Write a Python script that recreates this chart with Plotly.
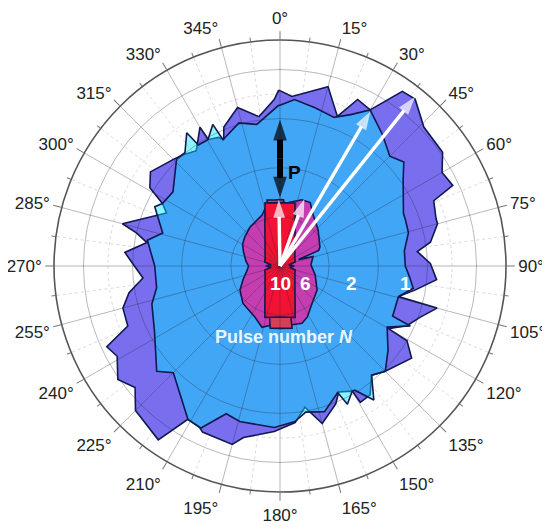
import plotly.graph_objects as go

# ---------------- data (angle in degrees, radius in grid units) ----------------
n1_theta = [0, 4, 15, 21, 25, 30, 35, 39, 46, 55, 60, 65, 67, 73, 75, 81, 84, 89, 95, 100,
            104.5, 105, 110, 115, 120, 120.5, 125, 135, 140, 145, 149.5, 150, 155, 158, 165,
            170, 174.5, 182, 192, 195, 205, 206.5, 211, 215, 225, 230, 235, 241, 245, 248.5,
            255, 260, 265, 271, 275, 280, 283, 285, 295, 298, 301, 306, 315, 319, 324, 330,
            330.5, 334.5, 336, 338, 345, 352, 358, 359.5]
n1_r = [3.57, 3.46, 3.78, 3.26, 3.74, 3.67, 4.34, 4.37, 4.07, 4.04, 3.81, 3.88, 3.40, 3.32,
        3.32, 3.10, 2.81, 3.06, 3.20, 2.80, 2.49, 3.31, 3.04, 2.86, 2.55, 3.00, 3.27, 3.03,
        2.90, 3.20, 3.22, 2.94, 2.83, 3.03, 3.32, 2.92, 3.20, 3.37, 3.57, 3.76, 3.73, 3.67,
        3.64, 4.32, 4.16, 3.85, 4.03, 3.79, 3.89, 3.33, 3.31, 3.12, 2.80, 3.00, 3.17, 2.75,
        3.00, 3.32, 2.55, 2.71, 3.09, 3.26, 3.07, 3.00, 2.90, 3.26, 2.96, 2.90, 2.82, 3.05,
        3.34, 3.07, 3.39, 3.57]

n2_theta = [0, 5, 12.5, 20, 25, 30, 38, 45, 50, 55, 67, 70, 75.5, 83, 90, 95, 99.5, 104.5,
            114, 114.7, 119.7, 128, 135, 140, 145, 149, 150, 154, 155.5, 163, 170, 174.5,
            182, 194.5, 200, 206, 211, 225, 229.5, 242.5, 253.5, 260, 270, 281, 285.7, 295.3,
            298, 304.7, 316, 320, 325, 326, 330.3, 334.6, 335.7, 344, 350.7, 359.5]
n2_r = [3.27, 3.40, 3.30, 3.22, 3.40, 3.67, 3.39, 3.16, 3.29, 3.06, 2.73, 2.72, 2.70, 2.55,
        2.55, 2.65, 2.75, 2.49, 2.51, 2.92, 2.51, 2.79, 3.03, 2.90, 3.33, 2.95, 2.94, 3.13,
        2.83, 3.10, 3.02, 3.18, 3.29, 3.27, 3.20, 3.67, 3.64, 3.07, 3.30, 2.88, 2.72, 2.55,
        2.55, 2.75, 2.48, 2.82, 2.71, 2.65, 3.03, 3.01, 3.31, 2.97, 2.96, 3.19, 2.82, 3.03,
        2.92, 3.27]

n6_theta = [0, 6, 10.6, 18.4, 25.5, 33, 46.5, 64.6, 68, 71, 74, 88, 104.4, 123, 139, 152,
            159, 170, 184.6, 187.7, 196.4, 206, 225, 239, 250, 262, 270, 278, 291.5, 300,
            309.6, 322.4, 340.6, 349, 355]
n6_r = [1.25, 1.29, 1.33, 1.42, 1.43, 1.24, 1.07, 0.90, 0.85, 0.40, 0.70, 0.63, 0.74, 0.90,
        1.00, 1.18, 1.25, 1.22, 1.27, 1.21, 1.30, 1.16, 1.07, 0.95, 0.80, 0.68, 0.64, 0.70,
        0.80, 0.88, 0.93, 1.00, 1.10, 1.31, 1.30]

n8_theta = [0, 3, 8, 15, 30, 45, 60, 90, 120, 135, 150, 160, 168, 169, 180, 189, 195, 210,
            225, 270, 315, 330, 340, 345, 348.9, 355]
n8_r = [1.35, 1.35, 1.02, 0.87, 0.45, 0.32, 0.26, 0.22, 0.26, 0.32, 0.45, 0.65, 1.08, 1.29,
        1.27, 1.28, 0.87, 0.45, 0.32, 0.22, 0.32, 0.45, 0.65, 0.87, 1.37, 1.35]

n10_theta = [0, 13.4, 20, 30, 45, 60, 75, 83, 90, 97, 105, 120, 135, 150, 160, 163.6, 170,
             180, 190, 196.4, 200, 210, 225, 240, 255, 263, 270, 277, 285, 300, 315, 330,
             340, 346.6, 355]
n10_r = [1.29, 1.32, 0.90, 0.61, 0.43, 0.35, 0.32, 0.18, 0.29, 0.20, 0.32, 0.35, 0.43, 0.61,
         0.90, 1.09, 1.06, 1.04, 1.06, 1.09, 0.90, 0.61, 0.43, 0.35, 0.32, 0.18, 0.29, 0.18,
         0.32, 0.35, 0.43, 0.61, 0.90, 1.32, 1.29]

# white arrows (from the centre) : direction and length
arrow_theta = [359, 20, 30.3, 38.6]
arrow_r = [1.35, 1.45, 3.64, 4.40]

# black double-headed arrow P (along 0 deg)
p_theta = 0
p_r_start, p_r_end = 1.39, 2.98

angle_ticks = list(range(0, 360, 15))
angle_labels = [f"{a}°" for a in angle_ticks]
minor_angle_ticks = [a + 7.5 for a in angle_ticks]
radial_ticks = [1, 2, 3, 4]
minor_radial_ticks = [0.5, 1.5, 2.5, 3.5]

series_labels = ["10", "6", "2", "1"]

# ---------------- figure ----------------
fig = go.Figure()
outline = "#101850"


def area(theta, r, color, sub="polar"):
    fig.add_trace(go.Scatterpolar(
        theta=theta + [theta[0]], r=r + [r[0]], mode="lines", fill="toself",
        fillcolor=color, line=dict(color=outline, width=1.6), hoverinfo="skip",
        showlegend=False, subplot=sub))


area(n1_theta, n1_r, "rgb(120,110,238)")
area(n2_theta, n2_r, "rgba(0,235,255,0.45)")
area(n6_theta, n6_r, "rgb(196,62,178)")
area(n8_theta, n8_r, "rgb(214,62,84)")
area(n10_theta, n10_r, "rgb(242,18,52)")

# white arrows
for th, rr in zip(arrow_theta, arrow_r):
    fig.add_trace(go.Scatterpolar(
        theta=[th, th], r=[0, rr], mode="lines+markers", subplot="polar2",
        line=dict(color="white", width=3.4),
        marker=dict(symbol=["circle", "arrow"], size=[0, 19], color="white",
                    angleref="previous", line=dict(width=0)),
        hoverinfo="skip", showlegend=False))

# black double arrow
p_mid = (p_r_start + p_r_end) / 2
for end in (p_r_end, p_r_start):
    fig.add_trace(go.Scatterpolar(
        theta=[p_theta, p_theta], r=[p_mid, end], mode="lines+markers", subplot="polar2",
        line=dict(color="black", width=6),
        marker=dict(symbol=["circle", "arrow"], size=[0, 22], color="black",
                    angleref="previous", line=dict(width=0)),
        hoverinfo="skip", showlegend=False))

font_family = "Liberation Sans, Arial, sans-serif"
common_radial = dict(range=[0, 4.6], showticklabels=False, ticks="", showline=False)

fig.update_layout(
    width=550, height=528,
    # page body adds an 8px offset, so margins are shifted by 8px up/left
    margin=dict(l=46, r=52, t=32, b=44),
    paper_bgcolor="white",
    font=dict(family=font_family, size=17, color="#222"),
    polar=dict(
        domain=dict(x=[0, 1], y=[0, 1]),
        bgcolor="white",
        angularaxis=dict(rotation=90, direction="clockwise", tickmode="array",
                         tickvals=minor_angle_ticks, showticklabels=False,
                         ticks="outside", ticklen=4, tickcolor="#777",
                         gridcolor="#dadada", griddash="dot", showline=False,
                         layer="below traces"),
        radialaxis=dict(tickmode="array", tickvals=minor_radial_ticks,
                        gridcolor="#dadada", griddash="dot", layer="below traces",
                        **common_radial),
    ),
    polar2=dict(
        domain=dict(x=[0, 1], y=[0, 1]),
        bgcolor="rgba(0,0,0,0)",
        angularaxis=dict(rotation=90, direction="clockwise", tickmode="array",
                         tickvals=angle_ticks, ticktext=angle_labels,
                         ticks="outside", ticklen=8, tickcolor="#777", tickwidth=1.2,
                         gridcolor="rgba(40,40,60,0.33)", gridwidth=1.1,
                         showline=True, linecolor="#555", linewidth=1.6,
                         tickfont=dict(size=17, color="#222"),
                         layer="below traces"),
        radialaxis=dict(tickmode="array", tickvals=radial_ticks,
                        gridcolor="rgba(40,40,60,0.33)", gridwidth=1.1,
                        layer="below traces", **common_radial),
    ),
)

# text labels
label_x = [0.50, 0.557, 0.659, 0.794]
for txt, x in zip(series_labels, label_x):
    fig.add_annotation(x=x, y=0.462, xref="paper", yref="paper", text=f"<b>{txt}</b>",
                       showarrow=False, font=dict(size=19, color="white", family=font_family))
fig.add_annotation(x=0.533, y=0.735, xref="paper", yref="paper", text="<b>P</b>",
                   showarrow=False, font=dict(size=19, color="black", family=font_family))
fig.add_annotation(x=0.508, y=0.316, xref="paper", yref="paper",
                   text="<b>Pulse number <i>N</i></b>",
                   showarrow=False, font=dict(size=18, color="#eaf6ff", family=font_family))

fig.write_html("out.html")
